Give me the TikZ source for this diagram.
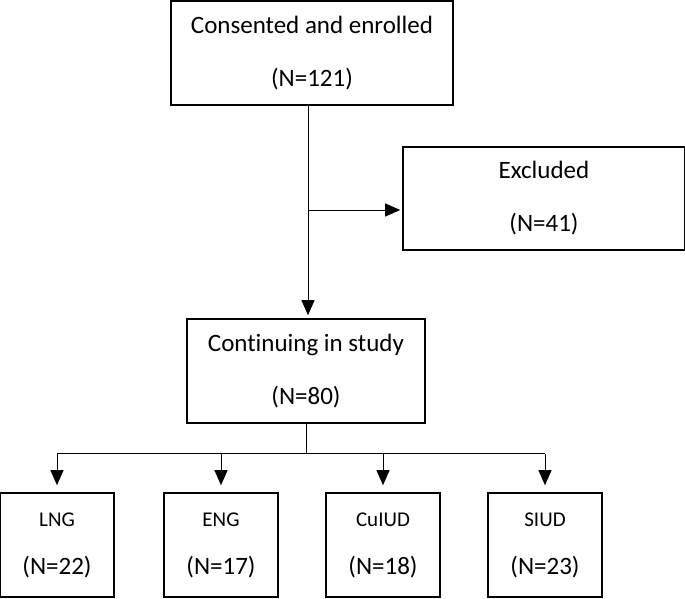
\documentclass[tikz,border=0pt]{standalone}
\usepackage{fontspec}
\setmainfont{Carlito}[Ligatures=NoCommon]
\usetikzlibrary{arrows.meta}
\tikzset{
  box/.style={draw,line width=1.6pt,inner sep=0pt,align=center,
    minimum height=104pt,font=\fontsize{25}{30}\selectfont},
  smallbox/.style={box,minimum width=114pt,font=\fontsize{25}{29}\selectfont},
  arr/.style={-{Triangle[length=15pt,width=13pt]},line width=.9pt},
  link/.style={line width=.9pt}
}
\begin{document}
\begin{tikzpicture}[x=1pt,y=-1pt]
  \useasboundingbox (0,0) rectangle (685,599);
  \node[box,minimum width=282pt] (enrolled) at (312,53)
    {Consented and enrolled\\[23pt](N=121)};
  \node[box,minimum width=282pt,minimum height=103pt] (excluded) at (544,198.5)
    {Excluded\\[23pt](N=41)};
  \node[box,minimum width=238pt] (continuing) at (306,371)
    {Continuing in study\\[23pt](N=80)};
  \foreach \name/\lab/\n/\x in {lng/LNG/22/57,eng/ENG/17/221,
                                cuiud/CuIUD/18/383,siud/SIUD/23/545}
    \node[smallbox] (\name) at (\x,545)
      {{\fontsize{21}{25}\selectfont\lab}\\[19pt](N=\n)};
  % arrows
  \coordinate (split) at (308,210);
  \draw[arr,shorten >=3pt] (enrolled.south -| split) -- (continuing.north -| split);
  \draw[arr,shorten >=2pt] (split) -- (split -| excluded.west);
  \draw[link] (continuing.south) -- ++(0,30) coordinate (hub);
  \draw[link] (hub -| lng.north) -- (hub -| siud.north);
  \foreach \name in {lng,eng,cuiud,siud}
    \draw[arr,shorten >=7pt] (hub -| \name.north) -- (\name.north);
\end{tikzpicture}
\end{document}
